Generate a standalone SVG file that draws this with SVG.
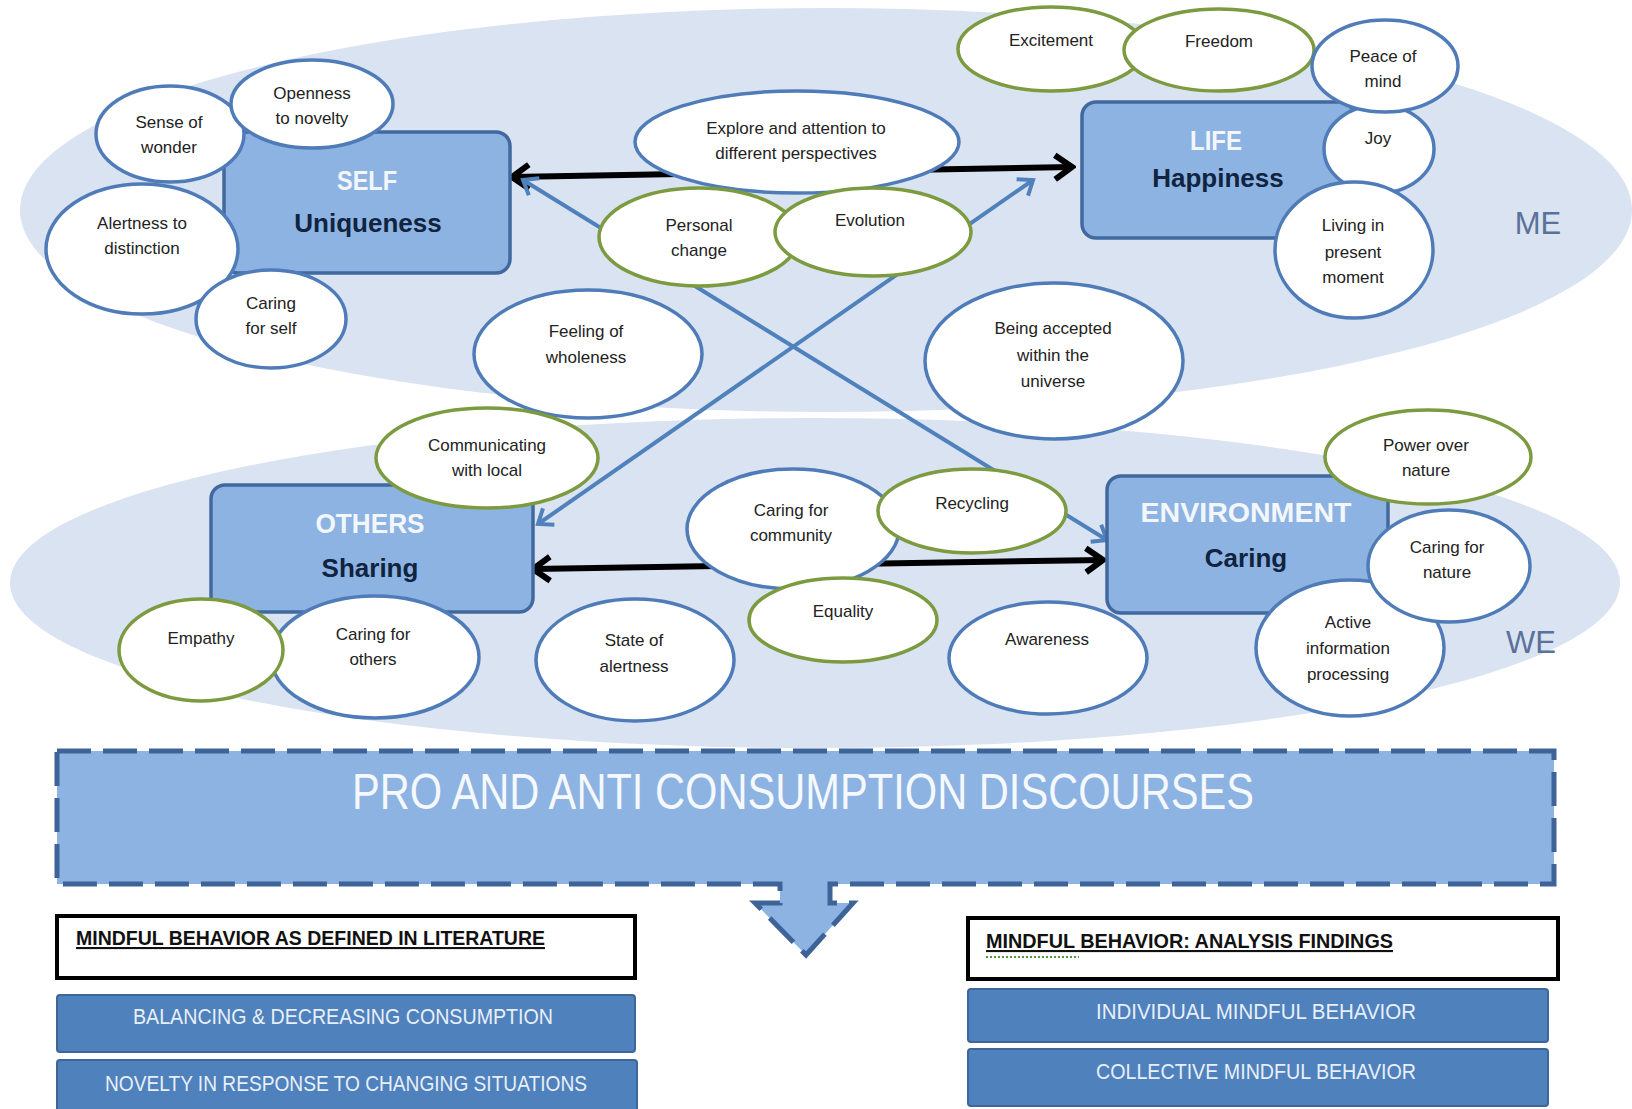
<svg xmlns="http://www.w3.org/2000/svg" width="1632" height="1109" viewBox="0 0 1632 1109">
<style>
.bg{fill:#DAE3F1}
.ob{fill:#FFFFFF;stroke:#4F7CB8;stroke-width:3.5}
.og{fill:#FFFFFF;stroke:#7C9A40;stroke-width:3.5}
.box{fill:#8DB3E2;stroke:#41699F;stroke-width:3.5}
.t{font-family:"Liberation Sans",Arial,sans-serif;font-size:17px;fill:#222222;text-anchor:middle}
.ttl{font-family:"Liberation Sans",Arial,sans-serif;font-size:28px;font-weight:bold;fill:#F3F7FC;text-anchor:middle}
.sub{font-family:"Liberation Sans",Arial,sans-serif;font-size:26px;font-weight:bold;fill:#10233F;text-anchor:middle}
.zone{font-family:"Liberation Sans",Arial,sans-serif;font-size:31px;fill:#5A7199;text-anchor:middle}
.ablk{fill:none;stroke:#000000;stroke-width:6}
.ablu{fill:none;stroke:#4F81BD;stroke-width:4}
.bar{fill:#4F81BD;stroke:#3E6699;stroke-width:2}
.bart{font-family:"Liberation Sans",Arial,sans-serif;font-size:22px;fill:#E8EFF8;text-anchor:middle}
.hdr{fill:#FFFFFF;stroke:#000000;stroke-width:4}
.hdrt{font-family:"Liberation Sans",Arial,sans-serif;font-size:21px;font-weight:bold;fill:#111111;text-decoration:underline}
</style>
<defs>
<marker id="mBlk" markerUnits="userSpaceOnUse" viewBox="-24 -16 28 32" markerWidth="28" markerHeight="32" refX="0" refY="0" orient="auto-start-reverse">
<path d="M-17,-12 L0,0 L-17,12" fill="none" stroke="#000000" stroke-width="6" stroke-linejoin="miter"/>
</marker>
<marker id="mBlu" markerUnits="userSpaceOnUse" viewBox="-20 -14 24 28" markerWidth="24" markerHeight="28" refX="0" refY="0" orient="auto-start-reverse">
<path d="M-13,-10 L0,0 L-13,10" fill="none" stroke="#4F81BD" stroke-width="4"/>
</marker>
</defs>
<rect width="1632" height="1109" fill="#FFFFFF"/>

<g id="zones">
<ellipse class="bg" cx="826" cy="210" rx="806" ry="202"/>
<ellipse class="bg" cx="815" cy="583" rx="805" ry="165"/>
<text class="zone" x="1538" y="234">ME</text>
<text class="zone" x="1531" y="653">WE</text>
</g>

<g id="connectors">
<line class="ablk" x1="512" y1="177" x2="1072" y2="167" marker-start="url(#mBlk)" marker-end="url(#mBlk)"/>
<line class="ablk" x1="533" y1="569" x2="1103" y2="560" marker-start="url(#mBlk)" marker-end="url(#mBlk)"/>
<line class="ablu" x1="523" y1="180" x2="1107" y2="540" marker-start="url(#mBlu)" marker-end="url(#mBlu)"/>
<line class="ablu" x1="538" y1="524" x2="1033" y2="180" marker-start="url(#mBlu)" marker-end="url(#mBlu)"/>
</g>

<g id="self">
<rect class="box" x="224" y="132" width="286" height="141" rx="14"/>
<text class="ttl" x="367" y="190" textLength="60" lengthAdjust="spacingAndGlyphs">SELF</text>
<text class="sub" x="368" y="232">Uniqueness</text>
</g>
<g id="life">
<rect class="box" x="1082" y="102" width="272" height="136" rx="14"/>
<text class="ttl" x="1216" y="150" textLength="52" lengthAdjust="spacingAndGlyphs">LIFE</text>
<text class="sub" x="1218" y="187">Happiness</text>
</g>
<g id="others">
<rect class="box" x="211" y="485" width="322" height="127" rx="14"/>
<text class="ttl" x="370" y="533" textLength="109" lengthAdjust="spacingAndGlyphs">OTHERS</text>
<text class="sub" x="370" y="577">Sharing</text>
</g>
<g id="environment">
<rect class="box" x="1107" y="476" width="281" height="137" rx="14"/>
<text class="ttl" x="1246" y="522" textLength="211" lengthAdjust="spacingAndGlyphs">ENVIRONMENT</text>
<text class="sub" x="1246" y="567">Caring</text>
</g>

<g id="sense-of-wonder">
<ellipse class="ob" cx="170" cy="134" rx="74" ry="48"/>
<text class="t" x="169" y="128">Sense of</text>
<text class="t" x="169" y="153">wonder</text>
</g>
<g id="openness-to-novelty">
<ellipse class="ob" cx="312" cy="104" rx="81" ry="44"/>
<text class="t" x="312" y="99">Openness</text>
<text class="t" x="312" y="124">to novelty</text>
</g>
<g id="alertness-to-distinction">
<ellipse class="ob" cx="142" cy="249" rx="96" ry="65"/>
<text class="t" x="142" y="229">Alertness to</text>
<text class="t" x="142" y="254">distinction</text>
</g>
<g id="caring-for-self">
<ellipse class="ob" cx="271" cy="319" rx="75" ry="49"/>
<text class="t" x="271" y="309">Caring</text>
<text class="t" x="271" y="334">for self</text>
</g>
<g id="explore">
<ellipse class="ob" cx="797" cy="142" rx="162" ry="51"/>
<text class="t" x="796" y="134">Explore and attention to</text>
<text class="t" x="796" y="159">different perspectives</text>
</g>
<g id="personal-change">
<ellipse class="og" cx="699" cy="237" rx="100" ry="49"/>
<text class="t" x="699" y="231">Personal</text>
<text class="t" x="699" y="256">change</text>
</g>
<g id="evolution">
<ellipse class="og" cx="873" cy="232" rx="98" ry="44"/>
<text class="t" x="870" y="226">Evolution</text>
</g>
<g id="feeling-of-wholeness">
<ellipse class="ob" cx="588" cy="354" rx="114" ry="64"/>
<text class="t" x="586" y="337">Feeling of</text>
<text class="t" x="586" y="363">wholeness</text>
</g>
<g id="being-accepted">
<ellipse class="ob" cx="1054" cy="361" rx="129" ry="78"/>
<text class="t" x="1053" y="334">Being accepted</text>
<text class="t" x="1053" y="361">within the</text>
<text class="t" x="1053" y="387">universe</text>
</g>
<g id="excitement">
<ellipse class="og" cx="1051" cy="49" rx="93" ry="42"/>
<text class="t" x="1051" y="46">Excitement</text>
</g>
<g id="freedom">
<ellipse class="og" cx="1219" cy="50" rx="95" ry="41"/>
<text class="t" x="1219" y="47">Freedom</text>
</g>
<g id="joy">
<ellipse class="ob" cx="1379" cy="149" rx="55" ry="44"/>
<text class="t" x="1378" y="144">Joy</text>
</g>
<g id="peace-of-mind">
<ellipse class="ob" cx="1385" cy="66" rx="73" ry="46"/>
<text class="t" x="1383" y="62">Peace of</text>
<text class="t" x="1383" y="87">mind</text>
</g>
<g id="living-in-present-moment">
<ellipse class="ob" cx="1354" cy="250" rx="79" ry="68"/>
<text class="t" x="1353" y="231">Living in</text>
<text class="t" x="1353" y="258">present</text>
<text class="t" x="1353" y="283">moment</text>
</g>
<g id="communicating-with-local">
<ellipse class="og" cx="487" cy="458" rx="111" ry="50"/>
<text class="t" x="487" y="451">Communicating</text>
<text class="t" x="487" y="476">with local</text>
</g>
<g id="caring-for-others">
<ellipse class="ob" cx="375" cy="657" rx="104" ry="61"/>
<text class="t" x="373" y="640">Caring for</text>
<text class="t" x="373" y="665">others</text>
</g>
<g id="empathy">
<ellipse class="og" cx="201" cy="650" rx="82" ry="51"/>
<text class="t" x="201" y="644">Empathy</text>
</g>
<g id="state-of-alertness">
<ellipse class="ob" cx="635" cy="660" rx="99" ry="61"/>
<text class="t" x="634" y="646">State of</text>
<text class="t" x="634" y="672">alertness</text>
</g>
<g id="caring-for-community">
<ellipse class="ob" cx="793" cy="529" rx="106" ry="60"/>
<text class="t" x="791" y="516">Caring for</text>
<text class="t" x="791" y="541">community</text>
</g>
<g id="recycling">
<ellipse class="og" cx="972" cy="511" rx="94" ry="42"/>
<text class="t" x="972" y="509">Recycling</text>
</g>
<g id="equality">
<ellipse class="og" cx="843" cy="620" rx="94" ry="42"/>
<text class="t" x="843" y="617">Equality</text>
</g>
<g id="awareness">
<ellipse class="ob" cx="1048" cy="658" rx="99" ry="56"/>
<text class="t" x="1047" y="645">Awareness</text>
</g>
<g id="power-over-nature">
<ellipse class="og" cx="1428" cy="457" rx="103" ry="47"/>
<text class="t" x="1426" y="451">Power over</text>
<text class="t" x="1426" y="476">nature</text>
</g>
<g id="active-information-processing">
<ellipse class="ob" cx="1350" cy="648" rx="94" ry="68"/>
<text class="t" x="1348" y="628">Active</text>
<text class="t" x="1348" y="654">information</text>
<text class="t" x="1348" y="680">processing</text>
</g>
<g id="caring-for-nature">
<ellipse class="ob" cx="1449" cy="566" rx="81" ry="56"/>
<text class="t" x="1447" y="553">Caring for</text>
<text class="t" x="1447" y="578">nature</text>
</g>

<g id="discourses">
<path d="M57,751 H1554 V884 H830 V903 H853 L806,955 L755,903 H780 V884 H57 Z" fill="#8DB3E2" stroke="#3D6399" stroke-width="5" stroke-dasharray="34 12" stroke-linejoin="miter"/>
<text x="803" y="809" font-family="'Liberation Sans', Arial, sans-serif" font-size="50" fill="#F5F8FC" text-anchor="middle" textLength="902" lengthAdjust="spacingAndGlyphs">PRO AND ANTI CONSUMPTION DISCOURSES</text>
</g>

<g id="literature-header">
<rect class="hdr" x="57" y="916" width="578" height="62"/>
<text class="hdrt" x="76" y="945" textLength="469" lengthAdjust="spacingAndGlyphs">MINDFUL BEHAVIOR AS DEFINED IN LITERATURE</text>
</g>
<g id="balancing">
<rect class="bar" x="57" y="995" width="578" height="57" rx="3"/>
<text class="bart" x="343" y="1024" textLength="420" lengthAdjust="spacingAndGlyphs">BALANCING &amp; DECREASING CONSUMPTION</text>
</g>
<g id="novelty">
<rect class="bar" x="57" y="1060" width="580" height="56" rx="3"/>
<text class="bart" x="346" y="1091" textLength="482" lengthAdjust="spacingAndGlyphs">NOVELTY IN RESPONSE TO CHANGING SITUATIONS</text>
</g>

<g id="findings-header">
<rect class="hdr" x="968" y="918" width="590" height="61"/>
<text class="hdrt" x="986" y="948" textLength="407" lengthAdjust="spacingAndGlyphs">MINDFUL BEHAVIOR: ANALYSIS FINDINGS</text>
<line x1="986" y1="957" x2="1079" y2="957" stroke="#4E9A3A" stroke-width="2" stroke-dasharray="2 2"/>
</g>
<g id="individual">
<rect class="bar" x="968" y="989" width="580" height="53" rx="3"/>
<text class="bart" x="1256" y="1019" textLength="320" lengthAdjust="spacingAndGlyphs">INDIVIDUAL MINDFUL BEHAVIOR</text>
</g>
<g id="collective">
<rect class="bar" x="968" y="1049" width="580" height="57" rx="3"/>
<text class="bart" x="1256" y="1079" textLength="320" lengthAdjust="spacingAndGlyphs">COLLECTIVE MINDFUL BEHAVIOR</text>
</g>
</svg>
